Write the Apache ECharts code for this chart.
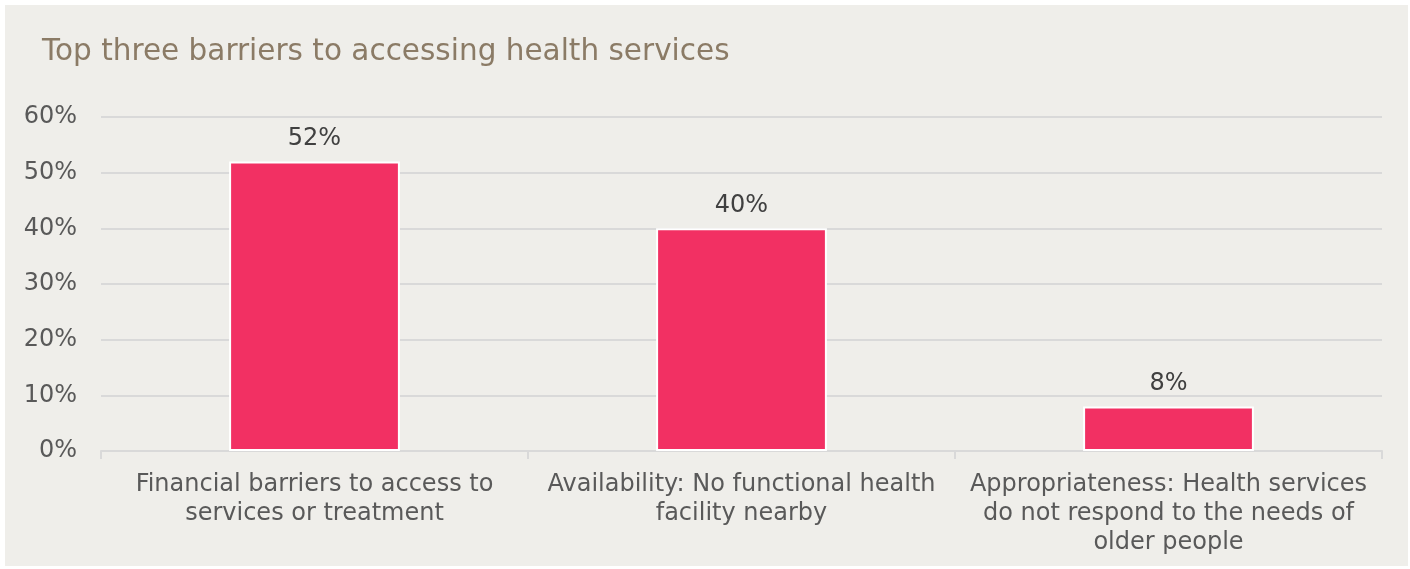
<!DOCTYPE html>
<html>
<head>
<meta charset="utf-8">
<script src="https://cdn.jsdelivr.net/npm/echarts@6/dist/echarts.min.js"></script>
<style>
  html, body { margin: 0; padding: 0; background: #ffffff; }
  #chart { width: 1410px; height: 569px; }
</style>
</head>
<body>
<div id="chart"></div>
<script>
// Survey results: share of respondents citing each barrier
const titleText = 'Top three barriers to accessing health services';
const categories = [
  'Financial barriers to access to\nservices or treatment',
  'Availability: No functional health\nfacility nearby',
  'Appropriateness: Health services\ndo not respond to the needs of\nolder people'
];
const values = [52, 40, 8];
const yTicks = { min: 0, max: 60, interval: 10 };

const FONT = '"DejaVu Sans", Verdana, sans-serif';

const chart = echarts.init(document.getElementById('chart'), null, { renderer: 'canvas' });
chart.setOption({
  backgroundColor: '#ffffff',
  animation: false,
  graphic: [{
    type: 'rect',
    z: -10,
    silent: true,
    shape: { x: 5, y: 5, width: 1403, height: 561 },
    style: { fill: '#efeeea' }
  }],
  title: {
    text: titleText,
    left: 37,
    top: 32,
    textStyle: { fontFamily: FONT, fontSize: 29.5, fontWeight: 'normal', color: '#8b7b66' }
  },
  grid: { left: 101, right: 28, top: 117, bottom: 118, containLabel: false },
  xAxis: {
    type: 'category',
    data: categories,
    axisLine: { show: true, lineStyle: { color: '#d9d9d9', width: 2 } },
    axisTick: { show: true, length: 8, alignWithLabel: false, lineStyle: { color: '#d9d9d9', width: 2 } },
    axisLabel: {
      interval: 0,
      margin: 19,
      fontFamily: FONT,
      fontSize: 24,
      lineHeight: 29,
      color: '#595959',
      align: 'center'
    }
  },
  yAxis: {
    type: 'value',
    min: yTicks.min,
    max: yTicks.max,
    interval: yTicks.interval,
    axisLine: { show: false },
    axisTick: { show: false },
    splitLine: { show: true, lineStyle: { color: '#d9d9d9', width: 2 } },
    axisLabel: {
      margin: 24,
      fontFamily: FONT,
      fontSize: 24,
      color: '#595959',
      formatter: v => v + '%'
    }
  },
  series: [{
    type: 'bar',
    data: values,
    barWidth: '40%',
    itemStyle: { color: '#f23063', borderColor: '#ffffff', borderWidth: 2 },
    label: {
      show: true,
      position: 'top',
      distance: 11,
      fontFamily: FONT,
      fontSize: 24,
      color: '#404040',
      formatter: p => p.value + '%'
    }
  }]
});
</script>
</body>
</html>
